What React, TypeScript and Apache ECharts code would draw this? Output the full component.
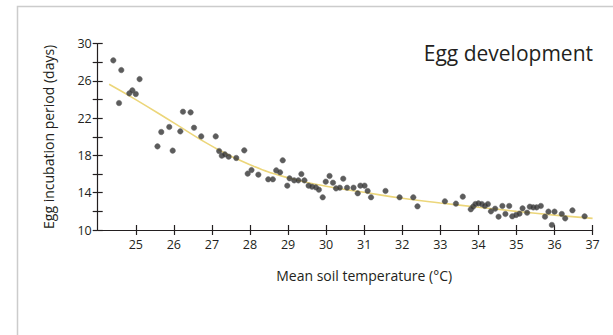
import React, { useEffect, useRef } from "react";
import * as echarts from "echarts";

const temperature = [
  24.41, 24.62, 24.56, 24.83, 24.91, 25.0, 25.1, 25.57, 25.67, 25.88, 25.97, 26.17, 26.24, 26.44, 26.53, 26.72,
  27.1, 27.19, 27.26, 27.34, 27.44, 27.64, 27.85, 27.94, 28.04, 28.22, 28.48, 28.6, 28.69, 28.79, 28.86, 28.98,
  29.04, 29.16, 29.27, 29.35, 29.43, 29.54, 29.63, 29.73, 29.81, 29.91, 29.99, 30.09, 30.18, 30.26, 30.36, 30.45,
  30.55, 30.72, 30.83, 30.9, 31.01, 31.09, 31.18, 31.56, 31.93, 32.29, 32.4, 33.12, 33.41, 33.59, 33.8, 33.86,
  33.92, 34.0, 34.09, 34.17, 34.25, 34.33, 34.44, 34.53, 34.63, 34.71, 34.81, 34.89, 34.99, 35.08, 35.16, 35.28,
  35.35, 35.44, 35.53, 35.64, 35.75, 35.84, 35.93, 36.0, 36.19, 36.28, 36.47, 36.79,
];
const incubationDays = [
  28.21, 27.17, 23.63, 24.67, 24.99, 24.6, 26.2, 18.98, 20.52, 21.06, 18.52, 20.59, 22.7, 22.63, 20.98, 20.05,
  20.05, 18.48, 17.98, 18.12, 17.87, 17.73, 18.55, 16.05, 16.44, 15.94, 15.44, 15.44, 16.4, 16.19, 17.48, 14.76,
  15.55, 15.33, 15.33, 16.01, 15.33, 14.76, 14.65, 14.58, 14.33, 13.51, 15.19, 15.8, 15.08, 14.47, 14.54, 15.51,
  14.54, 14.54, 13.94, 14.76, 14.76, 14.19, 13.51, 14.19, 13.51, 13.51, 12.54, 13.08, 12.83, 13.58, 12.22, 12.5,
  12.79, 12.86, 12.79, 12.58, 12.79, 12.0, 12.29, 11.43, 12.58, 11.72, 12.58, 11.47, 11.61, 11.75, 12.33, 11.86,
  12.5, 12.43, 12.43, 12.58, 11.43, 11.97, 10.54, 11.97, 11.72, 11.25, 12.11, 11.47,
];
const fitTemperature = [24.3, 25, 26, 27, 28, 29, 30, 31, 32, 33, 34, 35, 36, 37];
const fitDays = [25.65, 24.0, 21.5, 19.0, 17.0, 15.6, 14.7, 14.05, 13.4, 12.9, 12.45, 12.0, 11.6, 11.25];

const xTickLabels = [25, 26, 27, 28, 29, 30, 31, 32, 33, 34, 35, 36, 37];
const yTickLabels = [10, 14, 18, 22, 26, 30];
const yTicks = [10, 12, 14, 16, 18, 20, 22, 24, 26, 28, 30];

const titleText = "Egg development";
const xName = "Mean soil temperature (°C)";
const yName = "Egg incubation period (days)";

const FONT = "Open Sans";
const INK = "#231f20";

export default function App() {
  const ref = useRef<HTMLDivElement>(null);
  useEffect(() => {
    if (!ref.current) return;
    const chart = echarts.init(ref.current, undefined, { renderer: "svg" });
    const xBase = {
      type: "value" as const,
      min: 24,
      max: 37,
      interval: 1,
      splitLine: { show: false },
    };
    const yBase = {
      type: "value" as const,
      min: 10,
      max: 30,
      interval: 2,
      splitLine: { show: false },
    };
    chart.setOption({
      animation: false,
      backgroundColor: "#ffffff",
      title: {
        text: titleText,
        right: 15,
        top: 37,
        textStyle: { fontFamily: FONT, fontSize: 21, fontWeight: "normal", color: INK },
      },
      grid: { left: 97.7, top: 43.7, right: 20.4, bottom: 105 },
      graphic: [
        {
          type: "rect",
          shape: { x: 17.5, y: 6.5, width: 800, height: 500 },
          style: { fill: "none", stroke: "#cccccc", lineWidth: 1.5 },
          silent: true,
        },
      ],
      xAxis: [
        {
          ...xBase,
          name: xName,
          nameLocation: "middle",
          nameGap: 38,
          nameTextStyle: { fontFamily: FONT, fontSize: 14, color: INK, padding: [0, 0, 0, 38] },
          axisLine: { show: true, lineStyle: { color: INK, width: 1.2 } },
          axisTick: { show: true, length: 5, customValues: xTickLabels, lineStyle: { color: INK, width: 1.2 } },
          axisLabel: {
            show: true,
            margin: 8,
            customValues: xTickLabels,
            fontFamily: FONT,
            fontSize: 12.5,
            color: INK,
            formatter: (v: number) => (v === 24 ? "" : String(v)),
          },
        },
        {
          ...xBase,
          position: "bottom",
          axisLine: { show: false },
          axisTick: { show: true, inside: true, length: 5, customValues: xTickLabels, lineStyle: { color: INK, width: 1.2 } },
          axisLabel: { show: false },
        },
      ],
      yAxis: [
        {
          ...yBase,
          name: yName,
          nameLocation: "middle",
          nameGap: 42,
          nameTextStyle: { fontFamily: FONT, fontSize: 14, color: INK },
          axisLine: { show: true, lineStyle: { color: INK, width: 1.2 } },
          axisTick: { show: true, length: 5, customValues: yTicks, lineStyle: { color: INK, width: 1.2 } },
          axisLabel: {
            show: true,
            margin: 6,
            customValues: yTickLabels,
            fontFamily: FONT,
            fontSize: 12.5,
            color: INK,
            formatter: (v: number) => ((v - 10) % 4 === 0 ? String(v) : ""),
          },
        },
        {
          ...yBase,
          position: "left",
          axisLine: { show: false },
          axisTick: { show: true, inside: true, length: 5, customValues: yTicks, lineStyle: { color: INK, width: 1.2 } },
          axisLabel: { show: false },
        },
      ],
      series: [
        {
          type: "scatter",
          xAxisIndex: 0,
          yAxisIndex: 0,
          data: temperature.map((t, i) => [t, incubationDays[i]]),
          symbol: "circle",
          symbolSize: 5.5,
          itemStyle: { color: "#333333", borderColor: "#666666", borderWidth: 0.6 },
          z: 3,
        },
        {
          type: "line",
          xAxisIndex: 0,
          yAxisIndex: 0,
          data: fitTemperature.map((t, i) => [t, fitDays[i]]),
          smooth: true,
          showSymbol: false,
          symbol: "none",
          lineStyle: { color: "#ecd67a", width: 1.6 },
          z: 2,
        },
      ],
    });
    return () => chart.dispose();
  }, []);
  return (
    <div
      ref={ref}
      style={{ position: "fixed", left: 0, top: 0, width: 613, height: 335, background: "#fff" }}
    />
  );
}
